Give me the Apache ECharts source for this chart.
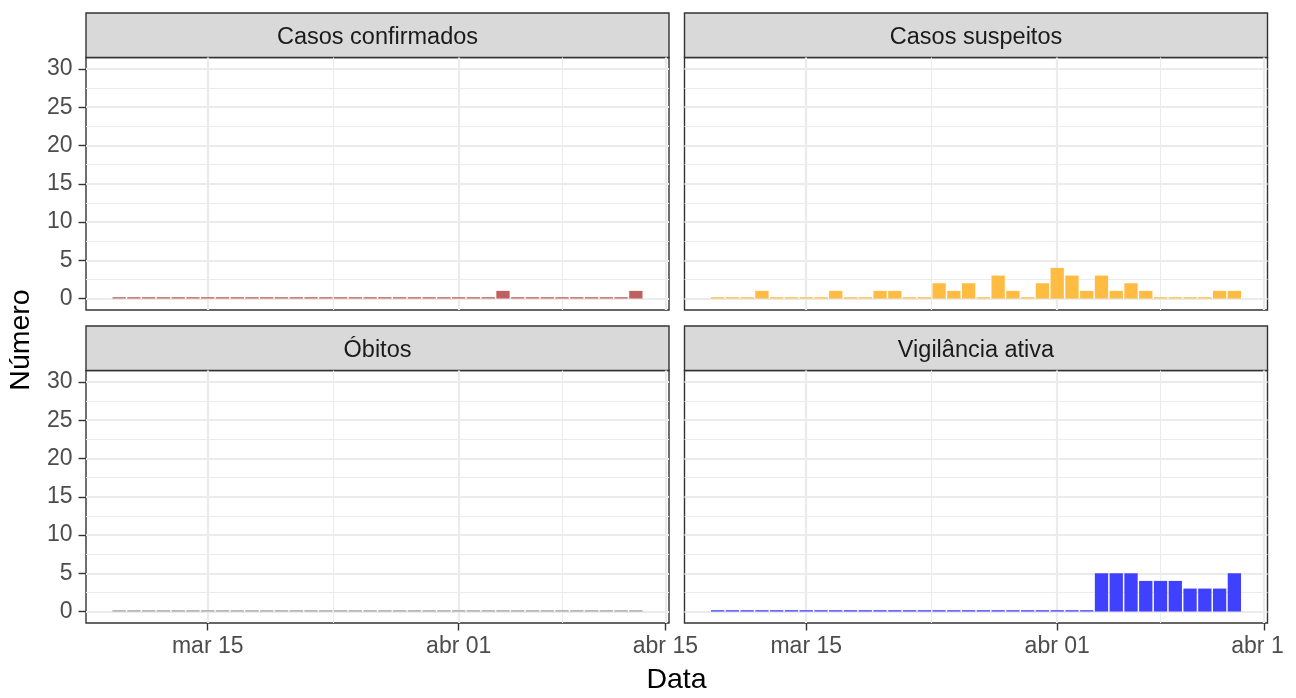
<!DOCTYPE html>
<html><head><meta charset="utf-8">
<script src="https://cdn.jsdelivr.net/npm/echarts@6/dist/echarts.min.js"></script>
<style>html,body{margin:0;padding:0;background:#fff}#c{width:1296px;height:698px}</style>
</head><body><div id="c"></div>
<script>
// ---- data ----
const dates = ['2020-03-09','2020-03-10','2020-03-11','2020-03-12','2020-03-13','2020-03-14','2020-03-15','2020-03-16','2020-03-17','2020-03-18',
  '2020-03-19','2020-03-20','2020-03-21','2020-03-22','2020-03-23','2020-03-24','2020-03-25','2020-03-26','2020-03-27','2020-03-28',
  '2020-03-29','2020-03-30','2020-03-31','2020-04-01','2020-04-02','2020-04-03','2020-04-04','2020-04-05','2020-04-06','2020-04-07',
  '2020-04-08','2020-04-09','2020-04-10','2020-04-11','2020-04-12','2020-04-13'];
const confirmados = [0,0,0,0,0,0,0,0,0,0, 0,0,0,0,0,0,0,0,0,0, 0,0,0,0,0,0,1,0,0,0, 0,0,0,0,0,1];
const suspeitos   = [0,0,0,1,0,0,0,0,1,0, 0,1,1,0,0,2,1,2,0,3, 1,0,2,4,3,1,3,1,2,1, 0,0,0,0,1,1];
const obitos      = [0,0,0,0,0,0,0,0,0,0, 0,0,0,0,0,0,0,0,0,0, 0,0,0,0,0,0,0,0,0,0, 0,0,0,0,0,0];
const vigilancia  = [0,0,0,0,0,0,0,0,0,0, 0,0,0,0,0,0,0,0,0,0, 0,0,0,0,0,0,5,5,5,4, 4,4,3,3,3,5];
const facetNames = ['Casos confirmados','Casos suspeitos','Óbitos','Vigilância ativa'];
const xTickDates = ['2020-03-15','2020-04-01','2020-04-15'];
const xTickLabels = ['mar 15','abr 01','abr 15'];
const xMinorDates = ['2020-03-23T12:00:00Z','2020-04-08'];
const yTicks = [0,5,10,15,20,25,30];
const yMinor = [2.5,7.5,12.5,17.5,22.5,27.5];

// ---- helpers ----
const DAY = 86400000;
const t0 = Date.parse(dates[0] + 'T00:00:00Z');
const dayIdx = s => (Date.parse(s.length > 10 ? s : s + 'T00:00:00Z') - t0) / DAY;
const xTicks = xTickDates.map(dayIdx);
const xMinor = xMinorDates.map(dayIdx);
const tickIndex = v => { for (let i = 0; i < xTicks.length; i++) if (Math.abs(xTicks[i] - v) < 1e-6) return i; return -1; };
const labelOf = v => { const i = tickIndex(v); return i < 0 ? '' : xTickLabels[i]; };
// last label of the right-hand panel runs off the page edge in the reference
const labelClipped = v => { const i = tickIndex(v); if (i < 0) return '';
  const s = xTickLabels[i]; return i === xTicks.length - 1 ? s.slice(0, -1) + '{h|' + s.slice(-1) + '}' : s; };

const FONT = '"Liberation Sans", Arial, Helvetica, sans-serif';
const TICK_FS = 23, STRIP_FS = 23.5, TITLE_FS = 28.5;
const PW = 583, PH = 252.5, SH = 44.5;
const panels = [
  {vals: confirmados, color: '#BF5F5F', left: 86,    top: 57.5,  showX: false, showY: true},
  {vals: suspeitos,   color: '#FFBC42', left: 684.5, top: 57.5,  showX: false, showY: false},
  {vals: obitos,      color: '#A3A3A3', left: 86,    top: 370.5, showX: true,  showY: true},
  {vals: vigilancia,  color: '#4040FF', left: 684.5, top: 370.5, showX: true,  showY: false, clip: true}
];

const grids = [], xAxes = [], yAxes = [], series = [], graphics = [];
const gl = (w) => ({color: '#EBEBEB', width: w, type: 'solid'});
panels.forEach((p, i) => {
  grids.push({left: p.left, top: p.top, width: PW, height: PH, show: true, containLabel: false,
    outerBoundsMode: 'none',
    backgroundColor: '#fff', borderColor: '#333333', borderWidth: 1.4});
  xAxes.push({type: 'value', gridIndex: i, min: -2.245, max: 37.245,
    axisLine: {show: false, onZero: false}, splitLine: {show: false},
    axisTick: {show: p.showX, customValues: xTicks, length: 7.5, lineStyle: {color: '#333333', width: 1.4}},
    axisLabel: {show: p.showX, customValues: xTicks, formatter: p.clip ? labelClipped : labelOf, color: '#4D4D4D',
      fontSize: TICK_FS, fontFamily: FONT, margin: 12.5, hideOverlap: false, showMinLabel: true, showMaxLabel: true,
      rich: {h: {color: 'rgba(0,0,0,0)', fontSize: TICK_FS, fontFamily: FONT}}}});
  yAxes.push({type: 'value', gridIndex: i, min: -1.5, max: 31.5,
    axisLine: {show: false, onZero: false}, splitLine: {show: false},
    axisTick: {show: p.showY, customValues: yTicks, length: 7.5, lineStyle: {color: '#333333', width: 1.4}},
    axisLabel: {show: p.showY, customValues: yTicks, color: '#4D4D4D', fontSize: TICK_FS, fontFamily: FONT, margin: 13.5}});
  const ml = [];
  yMinor.forEach(v => ml.push({yAxis: v, lineStyle: gl(1.1)}));
  xMinor.forEach(v => ml.push({xAxis: v, lineStyle: gl(1.1)}));
  yTicks.forEach(v => ml.push({yAxis: v, lineStyle: gl(2.2)}));
  xTicks.forEach(v => ml.push({xAxis: v, lineStyle: gl(2.2)}));
  series.push({type: 'bar', xAxisIndex: i, yAxisIndex: i, z: 10, silent: true, animation: false,
    barWidth: 13.3, barMinHeight: 1.3,
    itemStyle: {color: p.color},
    data: dates.map((d, k) => [k, p.vals[k]]),
    markLine: {silent: true, animation: false, symbol: ['none', 'none'], label: {show: false},
      emphasis: {disabled: true}, data: ml}});
  graphics.push({type: 'rect', shape: {x: p.left, y: p.top - SH, width: PW, height: SH},
    style: {fill: '#D9D9D9', stroke: '#333333', lineWidth: 1.4}, silent: true});
  graphics.push({type: 'text', x: p.left + PW / 2, y: p.top - SH / 2 + 2,
    style: {text: facetNames[i], fill: '#1A1A1A', font: STRIP_FS + 'px ' + FONT, textAlign: 'center', textVerticalAlign: 'middle'}, silent: true});
});
graphics.push({type: 'text', x: 676.5, y: 680,
  style: {text: 'Data', fill: '#000', font: TITLE_FS + 'px ' + FONT, textAlign: 'center', textVerticalAlign: 'middle'}, silent: true});
graphics.push({type: 'text', x: 21, y: 340, rotation: Math.PI / 2,
  style: {text: 'Número', fill: '#000', font: TITLE_FS + 'px ' + FONT, textAlign: 'center', textVerticalAlign: 'middle'}, silent: true});

const chart = echarts.init(document.getElementById('c'), null, {renderer: 'canvas'});
chart.setOption({animation: false, backgroundColor: '#fff', textStyle: {fontFamily: FONT},
  grid: grids, xAxis: xAxes, yAxis: yAxes, series: series, graphic: graphics});
</script>
</body></html>
